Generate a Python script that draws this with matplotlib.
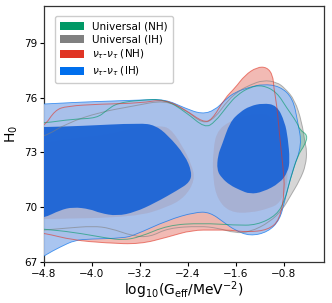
import numpy as np
import matplotlib
matplotlib.use("Agg")
import matplotlib.pyplot as plt
from matplotlib.path import Path
from matplotlib.patches import PathPatch, Patch

# contour outlines (log10 Geff, H0)
# nu_tau - nu_tau (IH), blue
ih_95_x = [-5.2, -4.8, -4.2, -3.2, -2.783, -2.45, -2.167, -1.95, -1.783, -1.617, -1.367, -1.15, -0.867,
           -0.65, -0.567, -0.5, -0.65, -0.783, -0.867, -1.067, -1.367, -1.617, -1.783, -2.033, -2.283,
           -2.733, -3.283, -3.483, -4.033, -4.283, -4.533, -4.783, -5.2]
ih_95_y = [75.6, 75.64, 75.75, 75.86, 75.91, 75.42, 75.09, 75.31, 75.86, 76.29, 76.57, 76.73, 76.62,
           75.97, 74.65, 73.4, 72.03, 70.39, 69.3, 68.64, 68.42, 68.75, 69.13, 69.73, 69.73,
           69.3, 68.48, 68.31, 68.26, 68.2, 67.82, 67.38, 66.5]
ih_68_left_x = [-5.2, -4.8, -4.2, -3.2, -2.95, -2.733, -2.45, -2.333, -2.367, -2.567, -2.95, -3.283,
                -3.583, -3.867, -4.033, -4.317, -4.533, -4.8, -5.2]
ih_68_left_y = [74.38, 74.38, 74.44, 74.6, 74.49, 73.94, 72.85, 71.92, 71.37, 70.94, 70.23, 69.73,
                69.52, 69.68, 69.9, 70.01, 69.84, 69.41, 69.19]
ih_68_right_x = [-1.917, -1.9, -1.833, -1.7, -1.533, -1.367, -1.15, -0.917, -0.783, -0.733, -0.7,
                 -0.733, -0.867, -1.15, -1.367, -1.533, -1.7, -1.833]
ih_68_right_y = [72.03, 72.85, 73.4, 74.65, 75.2, 75.53, 75.69, 75.58, 74.65, 73.78, 72.58,
                 71.92, 71.32, 70.83, 70.72, 70.94, 71.21, 71.59]

# nu_tau - nu_tau (NH), red
nh_95_x = [-5.2, -4.8, -4.617, -4.417, -3.867, -3.2, -2.783, -2.433, -2.15, -2.0, -1.783, -1.617,
           -1.45, -1.25, -1.083, -0.983, -0.967, -0.917, -0.867, -0.817, -0.783, -0.867, -1.067,
           -1.417, -1.7, -1.95, -2.333, -2.733, -3.2, -3.75, -4.317, -4.8, -5.2]
nh_95_y = [73.94, 74.38, 75.31, 75.53, 75.64, 75.69, 75.91, 75.31, 74.65, 74.76, 75.97, 76.51,
           77.22, 77.66, 77.66, 77.22, 76.51, 75.58, 73.78, 72.3, 70.94, 69.3, 68.75,
           68.64, 68.75, 68.75, 68.75, 68.37, 67.98, 68.04, 68.2, 68.59, 68.75]

# Universal (IH), gray
uih_95_x = [-5.2, -4.8, -4.417, -3.867, -3.317, -2.783, -2.433, -2.15, -1.95, -1.733, -1.533, -1.367,
            -1.15, -0.917, -0.783, -0.617, -0.5, -0.45, -0.417, -0.433, -0.533, -0.7, -0.817,
            -1.033, -1.367, -1.617, -1.9, -2.2, -2.733, -3.033, -3.317, -3.7, -3.983, -4.417,
            -4.8, -5.2]
uih_95_y = [73.67, 73.83, 74.6, 75.2, 75.53, 75.86, 75.31, 74.55, 74.87, 75.86, 76.4, 76.68,
            76.95, 76.84, 76.51, 75.86, 74.65, 73.56, 73.12, 72.3, 71.48, 70.56, 69.9,
            69.19, 68.64, 68.59, 68.86, 68.97, 68.86, 68.37, 68.42, 68.86, 68.97, 68.86,
            68.75, 68.64]

# Universal (NH), green
unh_95_x = [-5.2, -4.8, -4.317, -3.917, -3.75, -3.583, -3.2, -2.783, -2.433, -2.117, -1.95, -1.733,
            -1.583, -1.367, -1.15, -0.917, -0.75, -0.583, -0.533, -0.4, -0.45, -0.567, -0.7,
            -0.783, -0.917, -1.25, -1.617, -2.167, -2.733, -3.2, -3.483, -3.75, -4.317, -4.8, -5.2]
unh_95_y = [74.55, 74.6, 74.82, 74.87, 75.31, 75.69, 75.86, 75.91, 75.2, 74.33, 74.65, 75.58,
            76.13, 76.57, 76.68, 76.29, 75.42, 74.65, 74.22, 73.94, 73.4, 72.85, 71.48,
            70.39, 69.57, 69.02, 69.02, 69.13, 69.02, 68.37, 68.2, 68.31, 68.64, 68.8, 68.91]

# inner (68%) regions of the three other runs
oth_68_left_x = [-5.2, -4.8, -4.317, -3.75, -3.2, -2.867, -2.7, -2.5, -2.333, -2.283, -2.45, -2.733,
                 -3.283, -4.8, -5.2]
oth_68_left_y = [73.4, 73.51, 73.78, 73.94, 74.44, 74.44, 74.33, 73.4, 72.3, 71.48, 70.55, 70.01,
                 69.46, 69.35, 69.35]
oth_68_right_x = [-1.983, -1.9, -1.533, -1.2, -1.0, -0.867, -0.75, -0.733, -0.867, -1.033, -1.367,
                  -1.7, -1.9, -1.983]
oth_68_right_y = [73.12, 74.33, 74.93, 75.15, 74.98, 74.22, 72.58, 71.21, 70.23, 69.95, 69.68,
                  69.73, 70.39, 71.48]

labels = ["Universal (NH)", "Universal (IH)", r"$\nu_\tau$-$\nu_\tau$ (NH)", r"$\nu_\tau$-$\nu_\tau$ (IH)"]
colors = ["#009966", "gray", "#E03424", "#006FED"]
xticks = [-4.8, -4.0, -3.2, -2.4, -1.6, -0.8]
yticks = [67, 70, 73, 76, 79]


def smooth_path(xs, ys):
    # closed quadratic bezier path, the points act as control points
    pts = np.column_stack([xs, ys])
    mids = (pts + np.roll(pts, -1, axis=0)) / 2
    verts = [mids[-1]]
    codes = [Path.MOVETO]
    for i in range(len(pts)):
        verts += [pts[i], mids[i]]
        codes += [Path.CURVE3, Path.CURVE3]
    return Path(verts, codes)


def fill(ax, xs, ys, fc, alpha, z):
    ax.add_patch(PathPatch(smooth_path(xs, ys), facecolor=fc, edgecolor="none", alpha=alpha, zorder=z))


def outline(ax, xs, ys, ec, lw, alpha, z):
    ax.add_patch(PathPatch(smooth_path(xs, ys), facecolor="none", edgecolor=ec, lw=lw,
                           alpha=alpha, zorder=z))


fig = plt.figure(figsize=(3.32, 3.03), dpi=100)
ax = fig.add_axes([0.1325, 0.135, 0.8435, 0.845])

# light 95% fills, drawn one over the other
fill(ax, uih_95_x, uih_95_y, colors[1], 0.32, 1)
fill(ax, unh_95_x, unh_95_y, colors[0], 0.25, 1.2)
fill(ax, nh_95_x, nh_95_y, "#f2b5af", 0.93, 1.4)

fill(ax, ih_95_x, ih_95_y, "#a3c1ef", 0.93, 3)
outline(ax, ih_95_x, ih_95_y, colors[3], 0.6, 0.7, 3.5)

# inner regions of the other runs tint the blue band
for c, a in [(colors[2], 0.07), (colors[1], 0.09)]:
    fill(ax, oth_68_left_x, oth_68_left_y, c, a, 4)
    fill(ax, oth_68_right_x, oth_68_right_y, c, a, 4)

fill(ax, ih_68_left_x, ih_68_left_y, "#1f66d6", 0.97, 5)
fill(ax, ih_68_right_x, ih_68_right_y, "#1f66d6", 0.97, 5)

for xs, ys, c in [(uih_95_x, uih_95_y, colors[1]), (unh_95_x, unh_95_y, colors[0]),
                  (nh_95_x, nh_95_y, colors[2])]:
    outline(ax, xs, ys, c, 0.7, 0.6, 6)

ax.set_xlim(-4.8, -0.13)
ax.set_ylim(67, 81)
ax.set_xticks(xticks)
ax.set_xticklabels([f"{t:.1f}".replace("-", "\u2212") for t in xticks])
ax.set_yticks(yticks)
ax.tick_params(labelsize=7.5, length=3, width=0.8, pad=2)
for s in ax.spines.values():
    s.set_linewidth(0.9)
    s.set_color("#333333")
ax.set_xlabel(r"log$_{10}$(G$_{\rm eff}$/MeV$^{-2}$)", fontsize=10, labelpad=0)
ax.set_ylabel(r"H$_0$", fontsize=10, labelpad=3)

handles = [Patch(facecolor=c, edgecolor="none") for c in colors]
ax.legend(handles, labels, loc="upper left", fontsize=7.5, handlelength=2.3, handleheight=0.8,
          borderpad=0.5, labelspacing=0.3, bbox_to_anchor=(0.02, 0.98), framealpha=1,
          edgecolor="#cccccc")

fig.savefig("out.png", dpi=100)
